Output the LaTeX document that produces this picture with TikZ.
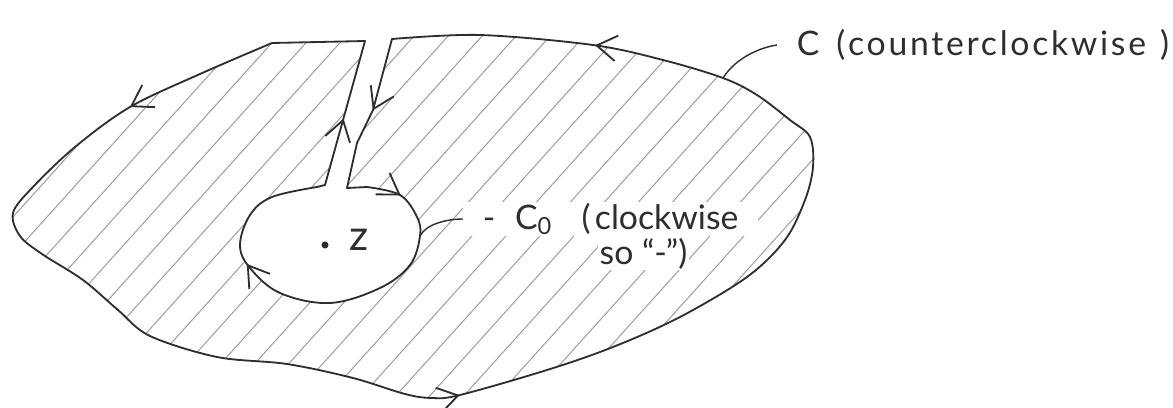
\documentclass[tikz,border=0pt]{standalone}
\usepackage{fontspec}
\setmainfont{Lato}
\usetikzlibrary{arrows.meta,decorations.markings}
\definecolor{sketchink}{HTML}{2E2E2E}
\definecolor{hatchgray}{HTML}{9C9C9C}
\newcommand{\keyhole}{(365,41) -- plot[smooth,tension=.55] coordinates {(272,43) (200,74) (130,107) (75,147) (32,188) (13,213) (20,236) (42,254) (83,280) (118,310) (150,336) (217,357) (287,364) (353,378) (405,394) (432,398) (460,395) (547,370) (613,347) (680,317) (747,277) (785,240) (805,200) (813,167) (810,137) (790,120) (757,95) (723,78) (663,60) (593,45) (480,35) (392,39)} -- (373,110) -- (357,143) -- (347,188) -- plot[smooth,tension=.6] coordinates {(367,187) (400,195) (417,217) (420,236) (410,265) (380,288) (330,303) (280,293) (250,268) (240,245) (250,215) (272,197) (317,187)} -- (325,185) -- cycle}

\begin{document}
\begin{tikzpicture}[
  x=.025cm,y=-.025cm,
  sketchtip/.tip={Straight Barb[length=5mm,width=6.4mm,line width=1.3pt]},
  contour/.style={draw=sketchink, line width=1.3pt, line join=round},
  hatch/.style={draw=hatchgray, line width=.7pt},
  leader/.style={draw=sketchink, line width=1pt},
  lbl/.style={font=\fontsize{24}{28}\selectfont, text=sketchink, inner sep=1pt},
  dot/.style={circle, fill=sketchink, inner sep=0pt, minimum size=5pt},
  turnmarks/.style={postaction={decorate}, decoration={markings,
    mark=at position .096 with {\arrow{sketchtip}},
    mark=at position .353 with {\arrow{sketchtip}},
    mark=at position .628 with {\arrow{sketchtip}},
    mark=at position .735 with {\arrow{sketchtip}},
    mark=at position .788 with {\arrow{sketchtip}},
    mark=at position .890 with {\arrow{sketchtip}},
    mark=at position .969 with {\arrow{sketchtip}}}},
]
\useasboundingbox (0,0) rectangle (1173,408);

\begin{scope}
  \clip \keyhole;
  \foreach \k in {-7,...,19}{\draw[hatch] (\k*34,420) -- ++(420,-466);}
\end{scope}

\node[lbl, anchor=west, inner xsep=14pt] (clab) at (777,45)
  {C\hspace{12pt}(\hspace{2pt}{\addfontfeature{LetterSpace=8}counterclockwise}\hspace{10pt})};
\node[lbl, anchor=west, inner xsep=14pt, fill=white] (c0lab) at (463,219)
  {-\hspace{14pt}C\textsubscript{0}\hspace{21pt}(\hspace{3pt}clockwise};
\node[lbl, anchor=base west, fill=white] (solab) at (598,264) {so ``-'')};
\node[dot] (zdot) at (325,245) {};
\node[lbl, anchor=west, font=\fontsize{30}{34}\selectfont] (zlab) at (348,240) {z};

\draw[contour, turnmarks] \keyhole;

\coordinate (cpt) at (723,78);
\coordinate (c0pt) at (420,236);
\draw[leader] (cpt) .. controls +(14,-22) and +(-14,2) .. (clab.west);
\draw[leader] (c0pt) .. controls +(6,-12) and +(-16,0) .. (c0lab.west);
\end{tikzpicture}
\end{document}
